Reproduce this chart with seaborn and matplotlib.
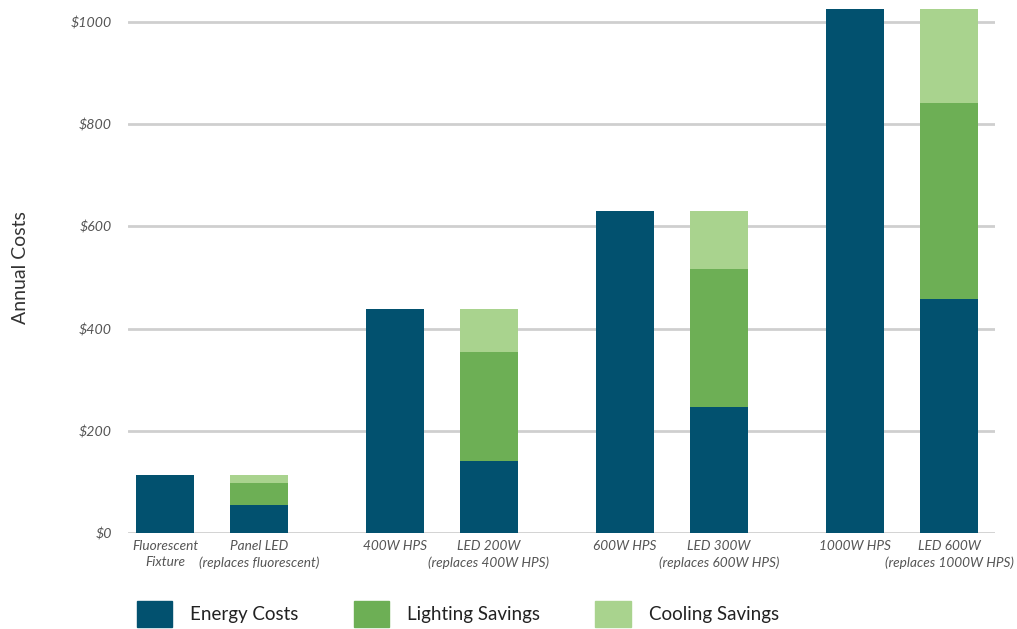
import matplotlib
matplotlib.use('Agg')
import matplotlib.pyplot as plt
import matplotlib.patches as mpatches
import seaborn as sns
import pandas as pd

# values
labels = [
    "Fluorescent\nFixture", "Panel LED\n(replaces fluorescent)",
    "400W HPS", "LED 200W\n(replaces 400W HPS)",
    "600W HPS", "LED 300W\n(replaces 600W HPS)",
    "1000W HPS", "LED 600W\n(replaces 1000W HPS)",
]
energy = [114, 55, 438, 141, 630, 247, 1025, 458]
lighting = [0, 43, 0, 213, 0, 270, 0, 384]
cooling = [0, 16, 0, 84, 0, 113, 0, 183]
yticks = [0, 200, 400, 600, 800, 1000]

colors = {"Energy Costs": "#02516f", "Lighting Savings": "#6daf55", "Cooling Savings": "#a9d38e"}

# bars come in pairs, with a wider gap between pairs
pos = [(i // 2) * 2.45 + (i % 2) for i in range(len(labels))]

df = pd.DataFrame({"pos": pos, "label": labels, "energy": energy,
                   "lighting": lighting, "cooling": cooling})
df["lit_top"] = df["energy"] + df["lighting"]
df["total"] = df["lit_top"] + df["cooling"]

sns.set_style("white")
plt.rcParams['font.family'] = ['Lato', 'DejaVu Sans']

fig = plt.figure(figsize=(10.17, 6.29), dpi=100)
ax = fig.add_axes([128 / 1017, 0.1526, 867 / 1017, 0.8449])

# stacked bars: draw totals first, then cover with lower segments
for col, name in [("total", "Cooling Savings"), ("lit_top", "Lighting Savings"), ("energy", "Energy Costs")]:
    sns.barplot(data=df, x="pos", y=col, native_scale=True, width=0.617,
                color=colors[name], saturation=1, linewidth=0, ax=ax, zorder=3)

ax.set_ylim(0, 1040)
ax.set_xlim(-0.394, pos[-1] + 0.49)
ax.set_yticks(yticks)
ax.set_yticklabels([f"${v}" for v in yticks], fontstyle='italic', color='#555555', fontsize=10.2)
ax.set_xticks(pos)
ax.set_xticklabels(labels, fontstyle='italic', color='#555555', fontsize=9.8, linespacing=1.45)
ax.tick_params(axis='both', length=0)
ax.tick_params(axis='y', pad=11.5)
ax.tick_params(axis='x', pad=5)
ax.grid(axis='y', color='#cfcfcf', linewidth=2, zorder=0)
ax.set_axisbelow(True)
sns.despine(ax=ax, left=True, bottom=True, top=True, right=True)
ax.set_xlabel("")
ax.set_ylabel("Annual Costs", fontsize=14, color='#333333', labelpad=30)

handles = [mpatches.Patch(color=c, label=n) for n, c in colors.items()]
fig.legend(handles=handles, loc='center left', bbox_to_anchor=(0.125, 0.024),
           ncol=3, frameon=False, fontsize=13.5, handlelength=1.9, handleheight=1.8,
           handletextpad=0.95, columnspacing=2.95, labelcolor='#222222', borderpad=0)

fig.savefig("out.png", dpi=100)
